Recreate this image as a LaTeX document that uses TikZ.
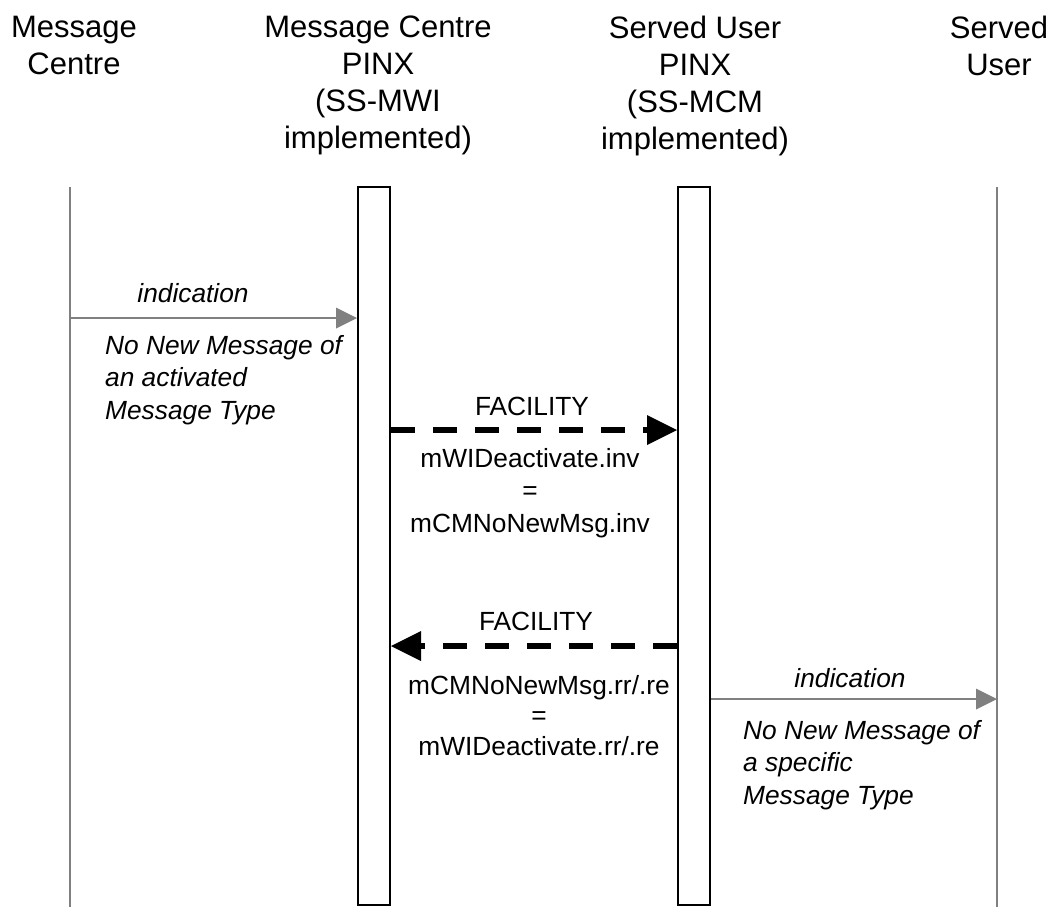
\documentclass[tikz,border=0pt]{standalone}
\usepackage{fontspec}
\setmainfont{Liberation Sans}
\usetikzlibrary{arrows.meta}
\definecolor{lifegray}{RGB}{128,128,128}
\begin{document}
\begin{tikzpicture}[x=1pt,y=-1pt,
  header/.style={anchor=north,align=center,inner sep=0pt,font=\fontsize{31}{37}\selectfont},
  lbl/.style={inner sep=0pt,font=\fontsize{26.3}{32.5}\selectfont},
  ilbl/.style={inner sep=0pt,font=\fontsize{26.3}{32.5}\selectfont\itshape},
  lifeline/.style={draw=lifegray,line width=2pt},
  bar/.style={draw=black,line width=2pt,fill=white,minimum width=32pt,minimum height=718pt,inner sep=0pt},
  ind/.style={draw=lifegray,line width=2.5pt,-{Triangle[length=21pt,width=21pt,line width=0pt]}},
  fac/.style={draw=black,line width=6.5pt,dash pattern=on 24pt off 18pt,-{Triangle[length=30pt,width=30pt,line width=0pt]}}]
\useasboundingbox (0,0) rectangle (1055,907);

% headers
\node[header] (hMC) at (74,16) {Message\\Centre};
\node[header] (hMCP) at (378,16) {Message Centre\\PINX\\(SS-MWI\\implemented)};
\node[header] (hSUP) at (695,16) {Served User\\PINX\\(SS-MCM\\implemented)};
\node[header] (hSU) at (999,16) {Served\\User};

% lifelines
\coordinate (l1t) at (70,187);
\coordinate (l1b) at (70,907);
\coordinate (l4t) at (997,187);
\coordinate (l4b) at (997,907);
\draw[lifeline] (l1t) -- (l1b);
\draw[lifeline] (l4t) -- (l4b);
\node[bar] (bar1) at (374,546) {};
\node[bar] (bar2) at (694,546) {};

% indication 1
\coordinate (i1) at (70,318);
\draw[ind] (i1) -- (bar1.west |- i1);
\node[ilbl,anchor=base] (ind1) at (193,302) {indication};
\node[ilbl,anchor=north west,align=left] (nnm1) at (105,335) {No New Message of\\an activated\\Message Type};

% facility 1
\coordinate (f1) at (534,430);
\draw[fac] (bar1.east |- f1) -- (bar2.west |- f1);
\node[lbl,anchor=base] (fac1) at (532,415) {FACILITY};
\node[lbl,anchor=north,align=center] (inv1) at (530,448) {mWIDeactivate.inv\\=\\mCMNoNewMsg.inv};

% facility 2
\coordinate (f2) at (534,646);
\draw[fac] (bar2.west |- f2) -- (bar1.east |- f2);
\node[lbl,anchor=base] (fac2) at (536,630) {FACILITY};
\node[lbl,anchor=north,align=center,font=\fontsize{26.3}{30.5}\selectfont] (rr1) at (539,675) {mCMNoNewMsg.rr/.re\\=\\mWIDeactivate.rr/.re};

% indication 2
\coordinate (i2) at (997,699);
\draw[ind] (bar2.east |- i2) -- (i2);
\node[ilbl,anchor=base] (ind2) at (850,687) {indication};
\node[ilbl,anchor=north west,align=left] (nnm2) at (743,720) {No New Message of\\a specific\\Message Type};
\end{tikzpicture}
\end{document}
